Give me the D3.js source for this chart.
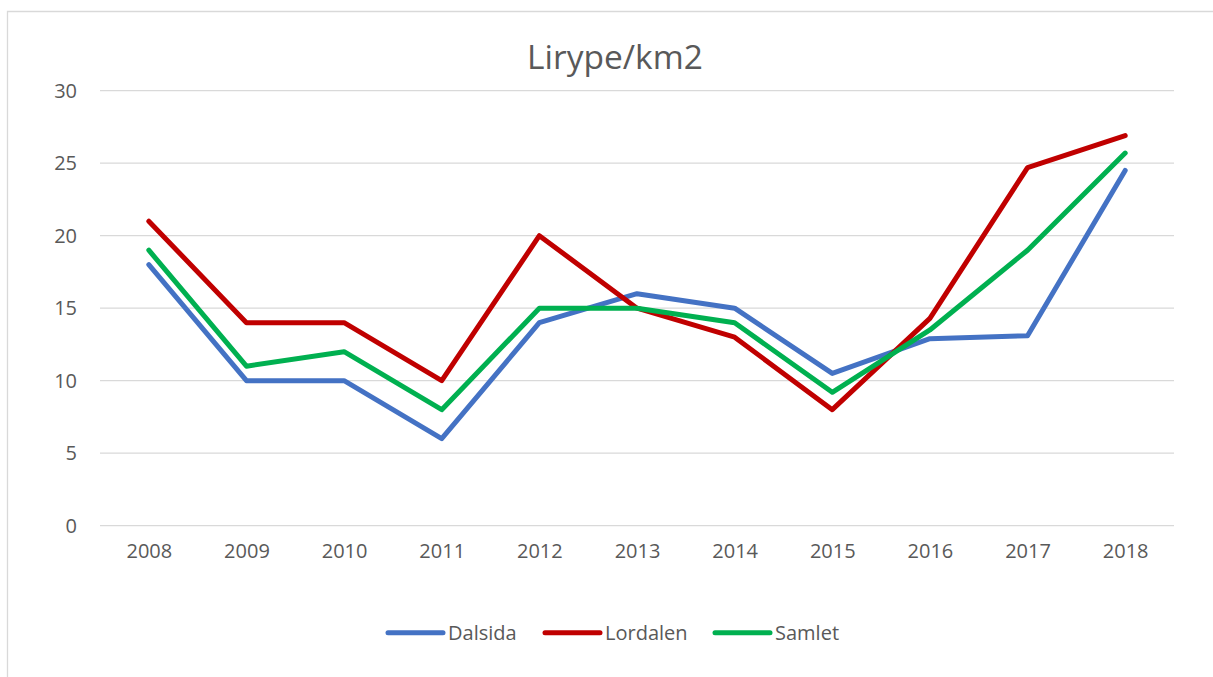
<!DOCTYPE html>
<html>
<head>
<meta charset="utf-8">
<script src="https://cdn.jsdelivr.net/npm/d3@7"></script>
<style>
	body{margin:0;background:#fff;}
	svg{display:block;font-family:'Open Sans',sans-serif;}
</style>
</head>
<body>
<div id="chart"></div>
<script>
const years = ['2008','2009','2010','2011','2012','2013','2014','2015','2016','2017','2018'];
const dalsida = [18,10,10,6,14,16,15,10.5,12.9,13.1,24.5];
const lordalen = [21,14,14,10,20,15,13,8,14.3,24.7,26.9];
const samlet = [19,11,12,8,15,15,14,9.2,13.5,19,25.7];
const yTicks = [0,5,10,15,20,25,30];

const series = [
	{name:'Dalsida', values:dalsida, color:'#4472C4'},
	{name:'Lordalen', values:lordalen, color:'#C00000'},
	{name:'Samlet', values:samlet, color:'#00B050'}
];

const W = 1213, H = 677;
const _m = {t:90.7, r:39, b:151.3, l:100};
const _w = W - _m.l - _m.r, _h = H - _m.t - _m.b;

const _svg = d3.select('#chart').append('svg')
	.attr('width',W)
	.attr('height',H);

// outer border
_svg.append('path')
	.attr('d',`M7.5,${H} V11.5 H${W}`)
	.style('fill','none')
	.style('stroke','#d9d9d9')
	.style('stroke-width','1.3px');

_svg.append('text')
	.attr('x',615)
	.attr('y',69)
	.attr('text-anchor','middle')
	.style('font-size','33.5px')
	.style('fill','#595959')
	.text('Lirype/km2');

const _graphic = _svg.append('g')
	.attr('transform',`translate(${_m.l},${_m.t})`);

const _scaleX = d3.scalePoint().domain(years).range([0,_w]).padding(0.5),
	_scaleY = d3.scaleLinear().domain([0,30]).range([_h,0]);

// gridlines
_graphic.append('g')
	.selectAll('line')
	.data(yTicks)
	.enter()
	.append('line')
	.attr('x1',0).attr('x2',_w)
	.attr('y1',d=>_scaleY(d)).attr('y2',d=>_scaleY(d))
	.style('stroke','#d9d9d9')
	.style('stroke-width','1.3px');

// y axis
const yAxis = _graphic.append('g')
	.call(d3.axisLeft(_scaleY).tickValues(yTicks).tickSize(0).tickPadding(23));
yAxis.select('.domain').remove();
yAxis.selectAll('text')
	.style('font-family','Open Sans')
	.style('font-size','20px')
	.style('fill','#595959');

// x axis
const xAxis = _graphic.append('g')
	.attr('transform',`translate(0,${_h})`)
	.call(d3.axisBottom(_scaleX).tickSize(0).tickPadding(18));
xAxis.select('.domain').remove();
xAxis.selectAll('text')
	.style('font-family','Open Sans')
	.style('font-size','20px')
	.style('fill','#595959');

const line = d3.line()
	.x((d,i)=>_scaleX(years[i]))
	.y(d=>_scaleY(d));

_graphic.selectAll('.series')
	.data(series)
	.enter()
	.append('path')
	.attr('class','series')
	.attr('d',d=>line(d.values))
	.style('fill','none')
	.style('stroke',d=>d.color)
	.style('stroke-width','5px')
	.style('stroke-linejoin','round')
	.style('stroke-linecap','round');

// legend
const legendX = [388,545,715];
const legend = _svg.selectAll('.legend')
	.data(series)
	.enter()
	.append('g').attr('class','legend')
	.attr('transform',(d,i)=>`translate(${legendX[i]},632.7)`);
legend.append('line')
	.attr('x1',0).attr('x2',55)
	.style('stroke',d=>d.color)
	.style('stroke-width','5px')
	.style('stroke-linecap','round');
legend.append('text')
	.attr('x',60)
	.attr('y',7)
	.style('font-size','20px')
	.style('fill','#595959')
	.text(d=>d.name);
</script>
</body>
</html>
